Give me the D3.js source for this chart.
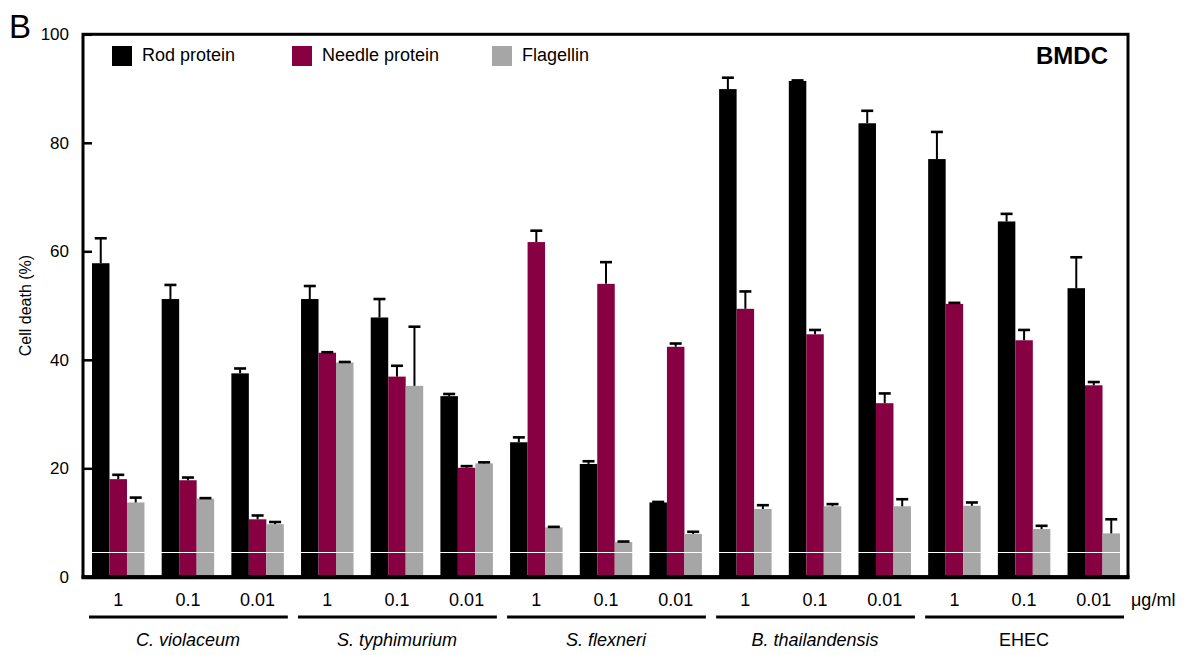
<!DOCTYPE html>
<html>
<head>
<meta charset="utf-8">
<script src="https://cdn.jsdelivr.net/npm/d3@7"></script>
<style>
  html, body { margin: 0; padding: 0; background: #fff; }
  svg { display: block; font-family: "Liberation Sans", Arial, sans-serif; }
</style>
</head>
<body>
<svg id="chart" width="1185" height="655"></svg>
<script>
// Bacteria (groups) and ligand doses (clusters within a group)
const categories = ["C. violaceum", "S. typhimurium", "S. flexneri", "B. thailandensis", "EHEC"];
const italicCategory = [true, true, true, true, false];
const doses = ["1", "0.1", "0.01"];
const series = ["Rod protein", "Needle protein", "Flagellin"];
const seriesColors = ["#000000", "#870041", "#a6a6a6"];

// Cell death (%) per group x dose, in category order, dose order 1 / 0.1 / 0.01
const rodMean    = [57.8, 51.2, 37.5,  51.2, 47.8, 33.3,  24.8, 20.8, 13.7,  89.9, 91.4, 83.6,  77.0, 65.5, 53.2];
const rodSD      = [ 4.6,  2.6,  0.9,   2.4,  3.4,  0.4,   0.9,  0.5,  0.1,   2.1,  0.1,  2.3,   5.0,  1.4,  5.7];
const needleMean = [18.0, 17.8, 10.6,  41.3, 36.9, 20.1,  61.7, 54.0, 42.4,  49.4, 44.7, 32.0,  50.3, 43.6, 35.3];
const needleSD   = [ 0.8,  0.5,  0.7,   0.1,  2.0,  0.3,   2.1,  4.0,  0.6,   3.2,  0.8,  1.8,   0.2,  1.9,  0.6];
const flagMean   = [13.7, 14.4,  9.7,  39.5, 35.2, 20.9,   9.1,  6.4,  7.9,  12.5, 13.0, 13.0,  13.1,  8.8,  8.0];
const flagSD     = [ 0.9,  0.1,  0.4,   0.1, 10.9,  0.2,   0.1,  0.1,  0.4,   0.7,  0.4,  1.3,   0.6,  0.6,  2.6];

const yTicks = [0, 20, 40, 60, 80, 100];
const unitLabel = "\u03bcg/ml";
const yTitle = "Cell death (%)";
const panelLetter = "B";
const cellType = "BMDC";

// Build rows: one cluster per group x dose
const means = [rodMean, needleMean, flagMean];
const sds = [rodSD, needleSD, flagSD];
const clusters = [];
categories.forEach((c, gi) => {
  doses.forEach((d, di) => {
    const idx = gi * doses.length + di;
    clusters.push({
      key: c + "|" + d, group: c, dose: d, gi,
      values: series.map((s, si) => ({ s, si, v: means[si][idx], sd: sds[si][idx] }))
    });
  });
});

const svg = d3.select("#chart");
const frame = { left: 83, right: 1128 };

const y = d3.scaleLinear().domain([0, 100]).range([576.8, 34.3]);
const x0 = d3.scaleBand().domain(clusters.map(d => d.key)).range([92, 1120]).paddingInner(0.247).paddingOuter(0);
const x1 = d3.scaleBand().domain(series).range([0, x0.bandwidth()]);

// Bars
const g = svg.append("g");
const cl = g.selectAll("g.cluster").data(clusters).join("g")
  .attr("class", "cluster")
  .attr("transform", d => `translate(${x0(d.key)},0)`);

cl.selectAll("rect").data(d => d.values).join("rect")
  .attr("x", d => x1(d.s))
  .attr("width", x1.bandwidth())
  .attr("y", d => y(d.v))
  .attr("height", d => y(0) - y(d.v))
  .attr("fill", d => seriesColors[d.si]);

// Thin white rule running across the bars near the base
svg.append("line")
  .attr("x1", x0.range()[0]).attr("x2", x0.range()[1])
  .attr("y1", Math.round(y(4.5)) + 0.5).attr("y2", Math.round(y(4.5)) + 0.5)
  .attr("stroke", "#fff").attr("stroke-width", 1);

// Error bars (upper only)
const eb = cl.selectAll("g.err").data(d => d.values).join("g").attr("class", "err");
eb.append("line")
  .attr("x1", d => x1(d.s) + x1.bandwidth() / 2)
  .attr("x2", d => x1(d.s) + x1.bandwidth() / 2)
  .attr("y1", d => y(d.v))
  .attr("y2", d => y(d.v + d.sd))
  .attr("stroke", "#000").attr("stroke-width", 2);
eb.append("line")
  .attr("x1", d => x1(d.s) + x1.bandwidth() / 2 - 6)
  .attr("x2", d => x1(d.s) + x1.bandwidth() / 2 + 6)
  .attr("y1", d => y(d.v + d.sd))
  .attr("y2", d => y(d.v + d.sd))
  .attr("stroke", "#000").attr("stroke-width", 2.6);

// Y axis with inward ticks
const yAxis = d3.axisLeft(y).tickValues(yTicks).tickSizeInner(-9).tickSizeOuter(0).tickPadding(14);
const ya = svg.append("g").attr("transform", `translate(${frame.left},0)`).call(yAxis);
ya.select(".domain").remove();
ya.selectAll(".tick line").attr("stroke", "#000").attr("stroke-width", 2.5);
ya.selectAll(".tick text").attr("font-size", 17).attr("fill", "#000")
  .attr("font-family", "Liberation Sans, Arial, sans-serif");

// Frame around the plot
svg.append("rect")
  .attr("x", frame.left).attr("y", y(100))
  .attr("width", frame.right - frame.left).attr("height", y(0) - y(100))
  .attr("fill", "none").attr("stroke", "#000").attr("stroke-width", 3);
svg.append("line")
  .attr("x1", frame.left - 1.5).attr("x2", frame.right + 1.5)
  .attr("y1", y(0) + 0.5).attr("y2", y(0) + 0.5)
  .attr("stroke", "#000").attr("stroke-width", 4);

// Dose labels
svg.selectAll("text.dose").data(clusters).join("text")
  .attr("class", "dose")
  .attr("x", d => x0(d.key) + x0.bandwidth() / 2)
  .attr("y", 601)
  .attr("dominant-baseline", "middle")
  .attr("text-anchor", "middle")
  .attr("font-size", 18)
  .text(d => d.dose);

svg.append("text")
  .attr("x", 1131).attr("y", 601)
  .attr("dominant-baseline", "middle")
  .attr("font-size", 18)
  .text(unitLabel);

// Group underlines and names
const groups = categories.map((c, gi) => {
  const first = clusters[gi * doses.length];
  const last = clusters[gi * doses.length + doses.length - 1];
  return { name: c, gi, x1: x0(first.key), x2: x0(last.key) + x0.bandwidth() };
});
svg.selectAll("line.grp").data(groups).join("line")
  .attr("class", "grp")
  .attr("x1", d => d.x1 - 3).attr("x2", d => d.x2 + 4)
  .attr("y1", 617).attr("y2", 617)
  .attr("stroke", "#000").attr("stroke-width", 3);
svg.selectAll("text.grp").data(groups).join("text")
  .attr("class", "grp")
  .attr("x", d => (d.x1 + d.x2) / 2)
  .attr("y", 641)
  .attr("dominant-baseline", "middle")
  .attr("text-anchor", "middle")
  .attr("font-size", 18)
  .attr("font-style", d => italicCategory[d.gi] ? "italic" : "normal")
  .text(d => d.name);

// Y title
svg.append("text")
  .attr("transform", `translate(31,${(y(0) + y(100)) / 2}) rotate(-90)`)
  .attr("text-anchor", "middle")
  .attr("font-size", 16)
  .text(yTitle);

// Panel letter
svg.append("text")
  .attr("x", 9).attr("y", 38)
  .attr("font-size", 33)
  .text(panelLetter);

// Legend
const legendX = [112, 292, 492];
const lg = svg.selectAll("g.legend").data(series).join("g")
  .attr("class", "legend")
  .attr("transform", (d, i) => `translate(${legendX[i]},46)`);
lg.append("rect").attr("width", 20).attr("height", 20)
  .attr("fill", (d, i) => seriesColors[i]);
lg.append("text").attr("x", 30).attr("y", 10)
  .attr("dominant-baseline", "middle")
  .attr("font-size", 18)
  .text(d => d);

// Cell type label
svg.append("text")
  .attr("x", 1108).attr("y", 58)
  .attr("text-anchor", "end")
  .attr("dominant-baseline", "middle")
  .attr("font-size", 24)
  .attr("font-weight", "bold")
  .text(cellType);
</script>
</body>
</html>
